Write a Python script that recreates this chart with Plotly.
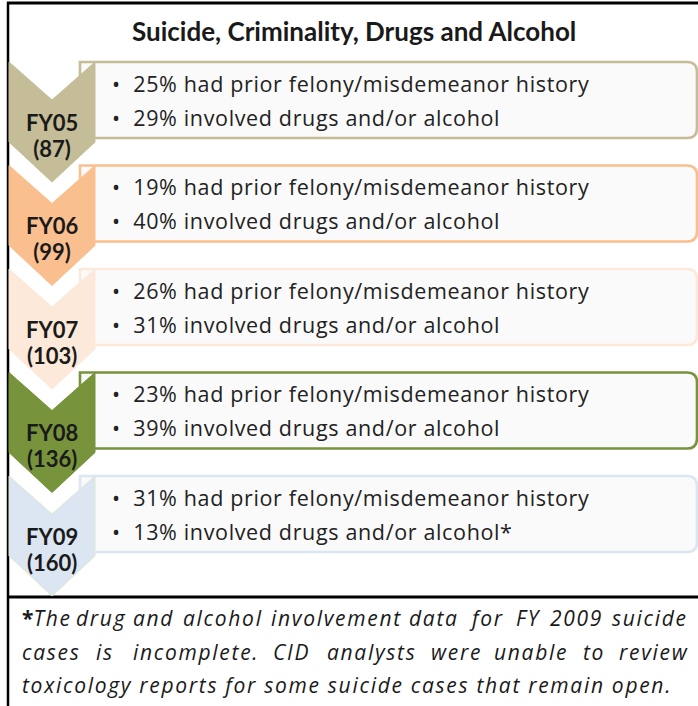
import plotly.graph_objects as go

# ---------------- data ----------------
fiscal_years = ["FY05", "FY06", "FY07", "FY08", "FY09"]
case_counts = [87, 99, 103, 136, 160]
felony_pct = [25, 19, 26, 23, 31]
drug_pct = [29, 40, 31, 39, 13]
drug_notes = ["", "", "", "", "*"]
band_colors = ["#c4bd97", "#fabf8f", "#fde9d9", "#77933c", "#dce6f2"]

title_text = "Suicide, Criminality, Drugs and Alcohol"
footnote_justified = [
    "*The drug and alcohol involvement data for FY 2009 suicide",
    "cases is incomplete.  CID analysts were unable to review",
]
footnote_last = "toxicology reports for some suicide cases that remain open."

# ---------------- geometry (reference pixels) ----------------
W, H = 698, 706
TITLE_FONT = "Lato, 'Open Sans', sans-serif"
TEXT_FONT = "'Open Sans', Lato, sans-serif"
top0, step = 62, 103.5
cx0, cx1, cxc = 9, 95, 52
notch, side, tip = 38, 80, 120
bx0, bx1, bh, r = 80, 697, 76, 10


def spaced(s, px):
    return f'<span style="letter-spacing:{px}px">{s}</span>'


def big(s, px):
    return f'<span style="font-size:{px}px"><b>{s}</b></span>'


shapes = []
annotations = []

# outer frame lines
shapes.append(dict(type="line", x0=7, x1=W, y0=3, y1=3, line=dict(color="black", width=3)))
shapes.append(dict(type="line", x0=8, x1=8, y0=2, y1=H, line=dict(color="black", width=2.5)))
shapes.append(dict(type="line", x0=7, x1=W, y0=597, y1=597, line=dict(color="black", width=3)))

annotations.append(dict(x=354, y=31, text="<b>" + title_text + "</b>", showarrow=False,
                        xanchor="center", yanchor="middle",
                        font=dict(family=TITLE_FONT, size=26, color="#1a1a1a")))

for i, fy in enumerate(fiscal_years):
    t = top0 + i * step
    col = band_colors[i]
    y0, y1 = t, t + bh
    path = (f"M {bx0},{y0} L {bx1 - r},{y0} Q {bx1},{y0} {bx1},{y0 + r} "
            f"L {bx1},{y1 - r} Q {bx1},{y1} {bx1 - r},{y1} L {bx0},{y1} Z")
    shapes.append(dict(type="path", path=path, fillcolor="#fafafa",
                       line=dict(color=col, width=2.6)))
    cpath = (f"M {cx0},{t} L {cxc},{t + notch} L {cx1},{t} L {cx1},{t + side} "
             f"L {cxc},{t + tip} L {cx0},{t + side} Z")
    shapes.append(dict(type="path", path=cpath, fillcolor=col,
                       line=dict(color=col if i < 4 else "#dde7cf", width=1)))
    # two-line chevron label (line pitch from base size 20 -> 26px)
    annotations.append(dict(x=cxc, y=t + 73,
                            text=big(fy, 22) + "<br>" + big(f"({case_counts[i]})", 22),
                            showarrow=False, xanchor="center", yanchor="middle",
                            font=dict(family=TITLE_FONT, size=20, color="#1a1a1a")))
    annotations.append(dict(x=110, y=t + 21,
                            text=spaced(f"•  {felony_pct[i]}% had prior felony/misdemeanor history", 0.65),
                            showarrow=False, xanchor="left", yanchor="middle",
                            font=dict(family=TEXT_FONT, size=21.5, color="#222222")))
    annotations.append(dict(x=110, y=t + 55,
                            text=spaced(f"•  {drug_pct[i]}% involved drugs and/or alcohol{drug_notes[i]}", 0.65),
                            showarrow=False, xanchor="left", yanchor="middle",
                            font=dict(family=TEXT_FONT, size=21.5, color="#222222")))

# footnote (justified lines placed word by word)
fn_font = dict(family=TEXT_FONT, size=21, color="#1a1a1a")
fn_ls = 1.7
left, right = 20, 690
line_y = [618, 651.5]
cw = 11.0
for li, line in enumerate(footnote_justified):
    words = line.split()
    widths = [len(w) * cw for w in words]
    gap = (right - left - sum(widths)) / (len(words) - 1)
    pos = left
    for wi, w in enumerate(words):
        if w.startswith("*"):
            txt = "<b>*</b>" + spaced("<i>" + w[1:] + "</i>", fn_ls)
        else:
            txt = spaced("<i>" + w + "</i>", fn_ls)
        if wi == 0:
            x, anc = left, "left"
        elif wi == len(words) - 1:
            x, anc = right, "right"
        else:
            x, anc = pos + widths[wi] / 2, "center"
        annotations.append(dict(x=x, y=line_y[li], text=txt, showarrow=False,
                                xanchor=anc, yanchor="middle", font=fn_font))
        pos += widths[wi] + gap
annotations.append(dict(x=left, y=685, text=spaced("<i>" + footnote_last + "</i>", fn_ls),
                        showarrow=False, xanchor="left", yanchor="middle", font=fn_font))

fig = go.Figure()
fig.add_trace(go.Scatter(x=[0, W], y=[0, H], mode="markers",
                         marker=dict(opacity=0), hoverinfo="skip", showlegend=False))
fig.update_layout(
    width=W, height=H, margin=dict(l=0, r=0, t=0, b=0),
    paper_bgcolor="white", plot_bgcolor="white",
    xaxis=dict(range=[0, W], visible=False, fixedrange=True),
    yaxis=dict(range=[H, 0], visible=False, fixedrange=True),
    shapes=shapes, annotations=annotations, showlegend=False,
)
fig.write_html("out.html", config={"displayModeBar": False},
               post_script="document.body.style.margin='0px';document.body.style.overflow='hidden';")
